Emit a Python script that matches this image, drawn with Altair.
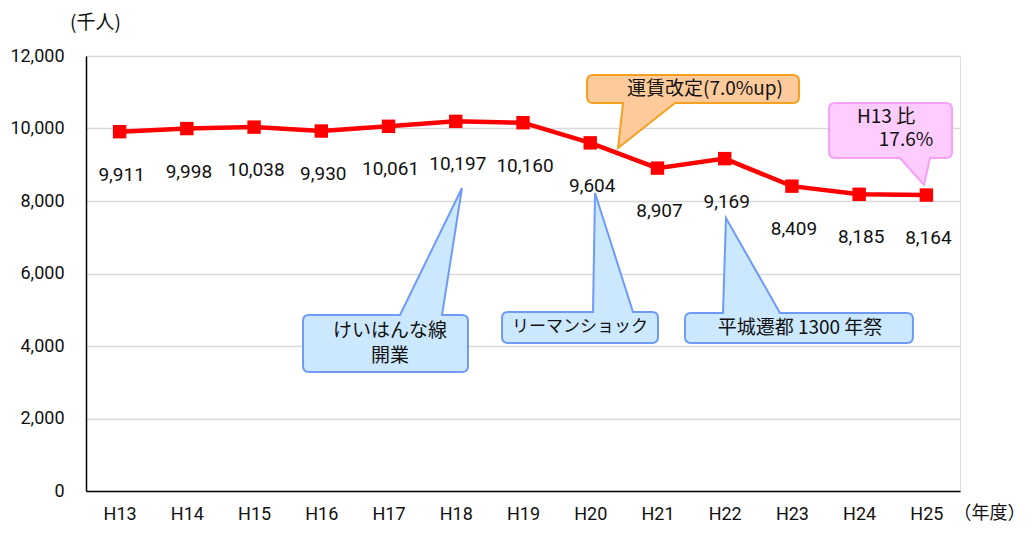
import altair as alt
import pandas as pd

years = ["H13", "H14", "H15", "H16", "H17", "H18", "H19", "H20", "H21", "H22", "H23", "H24", "H25"]
riders = [9911, 9998, 10038, 9930, 10061, 10197, 10160, 9604, 8907, 9169, 8409, 8185, 8164]
y_ticks = [0, 2000, 4000, 6000, 8000, 10000, 12000]

# callouts: box centre in data units (x index, value), fill, stroke
c_names = ["fare", "ratio", "keihanna", "lehman", "heijo"]
c_x = [8.529, 11.466, 3.955, 6.848, 10.105]
c_y = [11090, 9945, 4069, 4510, 4497]
c_fill = ["#FDCB9B", "#FFCCFF", "#CCE8FF", "#CCE8FF", "#CCE8FF"]
c_stroke = ["#F5A020", "#F7A0F7", "#6E9BFA", "#6E9BFA", "#6E9BFA"]

# callout text lines
t_text = ["運賃改定(7.0%up)", "H13 比", "17.6%", "けいはんな線", "開業", "リーマンショック", "平城遷都 1300 年祭"]
t_x = [8.707, 11.40, 11.697, 4.022, 4.022, 6.848, 10.12]
t_y = [11090, 10317, 9683, 4414, 3724, 4524, 4497]
t_size = [19, 19, 19, 19, 19, 17, 19]


def callout_path(w, h, side, b0, b1, tx, ty, r=6):
    L, R, T, B = -w / 2, w / 2, -h / 2, h / 2
    p = f"M{L + r},{T}"
    if side == "top":
        p += f" L{b0},{T} L{tx},{ty} L{b1},{T}"
    p += f" L{R - r},{T} Q{R},{T} {R},{T + r} L{R},{B - r} Q{R},{B} {R - r},{B}"
    if side == "bottom":
        p += f" L{b1},{B} L{tx},{ty} L{b0},{B}"
    p += f" L{L + r},{B} Q{L},{B} {L},{B - r} L{L},{T + r} Q{L},{T} {L + r},{T} Z"
    return p


shapes = [
    callout_path(212, 28, "bottom", -70, -18, -75, 59),
    callout_path(123, 55, "bottom", 9.5, 39.5, 33.5, 54.5),
    callout_path(165, 57, "top", 14.5, 56.5, 76.5, -155.5),
    callout_path(156, 31, "top", 13, 53, 15, -134.5),
    callout_path(228, 30, "top", -76, -19, -73, -110),
]

df = pd.DataFrame({"idx": list(range(len(years))), "v": riders})
df["lab"] = [f"{v:,}" for v in riders]
cdf = pd.DataFrame({"name": c_names, "idx": c_x, "v": c_y, "fill": c_fill, "stroke": c_stroke, "shape": shapes})
tdf = pd.DataFrame({"t": t_text, "idx": t_x, "v": t_y, "fs": t_size})

label_expr = "[" + ",".join(f"'{y}'" for y in years) + "][datum.value]"
NUMFONT = "Roboto"
JPFONT = "Noto Sans CJK JP"

xscale = alt.Scale(domain=[-0.5, 12.5], nice=False, zero=False)
yscale = alt.Scale(domain=[0, 12000], nice=False)

x_enc = alt.X("idx:Q", scale=xscale, axis=alt.Axis(
    values=list(range(len(years))), labelExpr=label_expr, grid=False, ticks=False,
    labelFont=NUMFONT, labelFontSize=18, labelColor="#111", labelPadding=14,
    domainColor="#000", domainWidth=1.5, title="（年度）", titleFont=JPFONT,
    titleFontSize=18, titleFontWeight="normal", titleColor="#111", titleX=903, titleY=22,
    titleBaseline="middle", titleAlign="center", titleLimit=200))
y_enc = alt.Y("v:Q", scale=yscale, axis=alt.Axis(
    values=y_ticks, format=",d", grid=True,
    gridColor="#D9D9D9", gridWidth=1.5, ticks=False, labelFont=NUMFONT, labelFontSize=18,
    labelColor="#111", labelPadding=22, domainColor="#000", domainWidth=1.5,
    title="(千人)", titleFont=JPFONT, titleFontSize=19, titleFontWeight="normal",
    titleColor="#111", titleAngle=0, titleX=9, titleY=-34, titleAlign="center",
    titleBaseline="middle"))

base = alt.Chart(df)
line = base.mark_line(color="#FF0000", strokeWidth=4.5).encode(x=x_enc, y=y_enc)
pts = base.mark_point(shape="square", filled=True, size=180, color="#FF0000", opacity=1).encode(
    x=x_enc, y=y_enc)
labels = base.mark_text(dy=43, dx=2, font=NUMFONT, fontSize=19, color="#111", baseline="middle").encode(
    x=x_enc, y=y_enc, text="lab:N")

callouts = alt.Chart(cdf).mark_point(filled=True, size=4, opacity=1, strokeWidth=2).encode(
    x=x_enc, y=y_enc,
    shape=alt.Shape("shape:N", scale=None, legend=None),
    fill=alt.Fill("fill:N", scale=None, legend=None),
    stroke=alt.Stroke("stroke:N", scale=None, legend=None))
ctext = alt.Chart(tdf).mark_text(font=JPFONT, color="#111", baseline="middle").encode(
    x=x_enc, y=y_enc, text="t:N", size=alt.Size("fs:Q", scale=None, legend=None))

chart = alt.layer(line, pts, labels, callouts, ctext).properties(
    width=874, height=435,
    autosize=alt.AutoSizeParams(type="none"),
    padding={"left": 78, "top": 48, "right": 65, "bottom": 34},
).configure_view(stroke="#000", strokeWidth=1.5).configure(background="white")

chart.save("out.html", embed_options={"renderer": "svg", "actions": False})
